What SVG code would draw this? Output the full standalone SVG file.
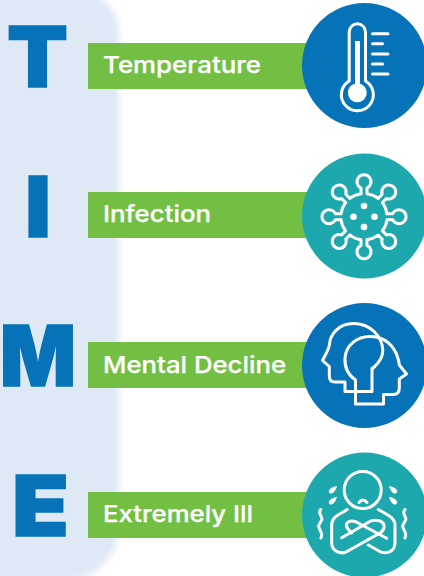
<svg xmlns="http://www.w3.org/2000/svg" width="424" height="576" viewBox="0 0 424 576">
<style>
.letter{font-family:"Inter","Liberation Sans",sans-serif;font-weight:900;font-size:84.5px;fill:#0673b8;stroke:#0673b8;stroke-width:1.5}
.label{font-family:"Inter","Liberation Sans",sans-serif;font-weight:500;font-size:23.5px;fill:#fff;stroke:#fff;stroke-width:.25}
.bar{fill:#72bf44}
.blue{fill:#0673b8}
.teal{fill:#1ca8ad}
.ico{fill:none;stroke:#fff;stroke-width:3;stroke-linecap:round;stroke-linejoin:round}
.dot{fill:#fff}
</style>
<defs>
<filter id="soft" x="-10%" y="-5%" width="120%" height="110%"><feGaussianBlur stdDeviation="3"/></filter>
<path id="spike" d="M-3 -23V-28.700A7 7 0 1 1 3 -28.700V-23A23.200 23.200 0 0 1 14.140 -18.380"/>
</defs>
<path id="panel" d="M-30 -8H79A40 40 0 0 1 119 32V526A55 55 0 0 1 64 581H-30Z" fill="#dfe8f5" filter="url(#soft)"/>
<g id="node-temperature">
<text class="letter" x="7" y="87.200" textLength="61" lengthAdjust="spacingAndGlyphs">T</text>
<rect class="bar" x="88" y="43" width="225" height="46"/>
<text class="label" x="103" y="72.500" textLength="158" lengthAdjust="spacingAndGlyphs">Temperature</text>
<circle class="blue" cx="364.500" cy="65.500" r="62.500"/>
<g class="ico">
<path d="M349.200 81V32A8.150 8.150 0 0 1 365.500 32V81A16 16 0 1 1 349.200 81Z"/>
<path d="M372.500 33.700H388M372.500 43.700H382.500M372.500 54H388M372.500 64H382.500M372.500 74H388"/>
</g>
<rect class="dot" x="355" y="41" width="5" height="50"/>
<circle class="dot" cx="357.300" cy="92.700" r="9.500"/>
</g>
<g id="node-infection">
<text class="letter" x="25" y="237.200" textLength="26" lengthAdjust="spacingAndGlyphs">I</text>
<rect class="bar" x="88" y="192" width="225" height="46"/>
<text class="label" x="103" y="221.700" textLength="108" lengthAdjust="spacingAndGlyphs">Infection</text>
<circle class="teal" cx="364.500" cy="216" r="62.500"/>
<g class="ico" transform="translate(364 216.700)">
<use href="#spike"/>
<use href="#spike" transform="rotate(45)"/>
<use href="#spike" transform="rotate(90)"/>
<use href="#spike" transform="rotate(135)"/>
<use href="#spike" transform="rotate(180)"/>
<use href="#spike" transform="rotate(225)"/>
<use href="#spike" transform="rotate(270)"/>
<use href="#spike" transform="rotate(315)"/>
</g>
<circle class="dot" cx="364" cy="206" r="3.300"/>
<circle class="dot" cx="353.500" cy="216.700" r="3.300"/>
<circle class="dot" cx="374.500" cy="216.700" r="3.300"/>
<circle class="dot" cx="364" cy="227" r="3.300"/>
</g>
<g id="node-mental-decline">
<text class="letter" x="0" y="386.200" textLength="76" lengthAdjust="spacingAndGlyphs">M</text>
<rect class="bar" x="88" y="342" width="225" height="46"/>
<text class="label" x="103" y="373" textLength="183" lengthAdjust="spacingAndGlyphs">Mental Decline</text>
<circle class="blue" cx="364.500" cy="365.500" r="62.500"/>
<g class="ico">
<path d="M373.300 368C376 365 383 360 382.800 350C382 336 370 323.500 353.500 323.500C339 323.500 330 334 329.300 345C329 349 327 351.500 322.500 360.500L329.300 366.500V376C329.300 380 331 382 335 382H345V391.500H372V368"/>
<path d="M355.500 380C347 374 344.500 366 345 358C346 345 357 336.500 370 336.500C384 336.500 392 345 396 353C398 358 399 360 399.300 365L406.500 374L399.300 379V388C399.300 392 397 394.500 393 394.500H383.500V404H355.500Z"/>
</g>
</g>
<g id="node-extremely-ill">
<text class="letter" x="12" y="536.200" textLength="57" lengthAdjust="spacingAndGlyphs">E</text>
<rect class="bar" x="88" y="492" width="225" height="46"/>
<text class="label" x="103" y="522" textLength="150" lengthAdjust="spacingAndGlyphs">Extremely Ill</text>
<circle class="teal" cx="364.500" cy="515" r="62.500"/>
<g class="ico">
<circle cx="362.700" cy="490" r="18.500"/>
<path d="M359 502.500Q362.700 497.500 367 502.500"/>
<path d="M347.300 509.500L338 515C333 518 331.700 521 331.700 525V543C331.700 551 341 555 347 551.500L380 533C386 529 385 523 380 521C376 520 372 520 369 522L341.700 537.700"/>
<path d="M351.700 533L348 529C344 524 348 521 352 521C355 521 357 522 360 524L386.700 538.300"/>
<path d="M378.300 509.500L388 515C393 518 395 521 395 525V543C395 552 385 555 379 551L368.300 545"/>
<path d="M320.700 509.500C317 514 323 516 321.700 520C320 524 317 525 320 530C322 534 322 534 321 538"/>
<path d="M405 509.500C401 514 407 516 405.700 520C404 524 401 525 404 530C406 534 406 534 405 538"/>
</g>
<path class="dot" d="M337 486C331 487 328 490 329 492.500C331 495 335 493 337 486ZM337 496.700C331 498 328 501 329 503.500C331 506 335 504 337 496.700ZM389 486C395 487 398 490 397 492.500C395 495 391 493 389 486ZM389 496.700C395 498 398 501 397 503.500C395 506 391 504 389 496.700Z"/>
</g>
</svg>
